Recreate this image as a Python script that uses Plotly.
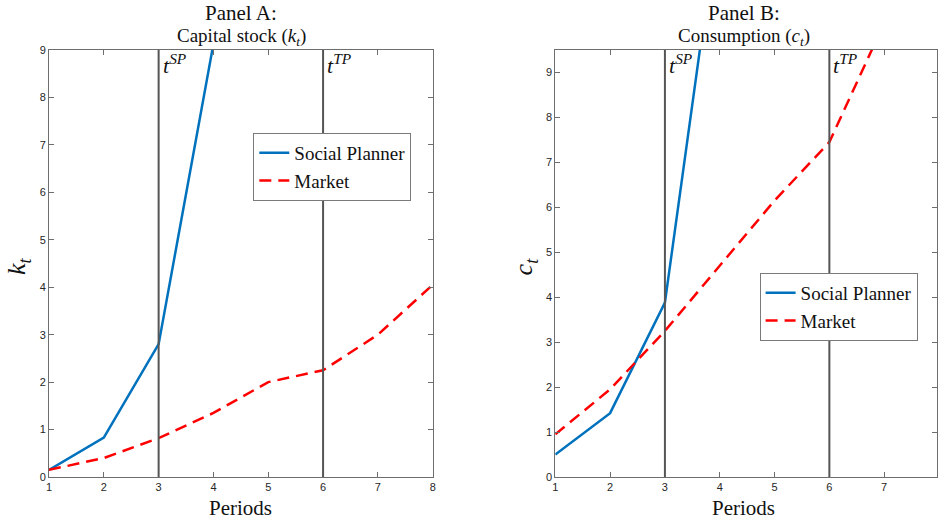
import plotly.graph_objects as go

periods = [1, 2, 3, 4, 5, 6, 7, 8]
k_planner = [0.15, 0.83, 2.8, 9.13, 30, 60, 90, 120]
k_market = [0.15, 0.40, 0.82, 1.35, 2.0, 2.25, 3.0, 4.05]
c_planner = [0.5, 1.42, 3.88, 12.7, 30, 60, 90, 120]
c_market = [0.95, 1.95, 3.25, 4.7, 6.15, 7.45, 10.1, 13.0]
t_sp, t_tp = 3, 6

BLUE = "#0072BD"
RED = "#FF0000"
SERIF = "Liberation Serif"
SANS = "Liberation Sans"
AX = "#6e6e6e"

fig = go.Figure()
dash = "12px,7px"
fig.add_trace(go.Scatter(x=periods, y=k_planner, mode="lines", name="Social Planner",
                         line=dict(color=BLUE, width=2.5), xaxis="x", yaxis="y", legend="legend"))
fig.add_trace(go.Scatter(x=periods, y=k_market, mode="lines", name="Market",
                         line=dict(color=RED, width=2.5, dash=dash), xaxis="x", yaxis="y", legend="legend"))
fig.add_trace(go.Scatter(x=periods, y=c_planner, mode="lines", name="Social Planner",
                         line=dict(color=BLUE, width=2.5), xaxis="x2", yaxis="y2", legend="legend2"))
fig.add_trace(go.Scatter(x=periods, y=c_market, mode="lines", name="Market",
                         line=dict(color=RED, width=2.5, dash=dash), xaxis="x2", yaxis="y2", legend="legend2"))

axcommon = dict(showline=True, linecolor=AX, linewidth=1, mirror="ticks", ticks="inside",
                ticklen=5, tickcolor=AX, showgrid=False, zeroline=False,
                tickfont=dict(family=SANS, size=11, color="#262626"))

dA = [0, (434 - 49) / 891]
dB = [(557 - 49) / 891, 1]
fig.update_layout(
    width=940, height=521,
    margin=dict(l=49, r=0, t=50, b=44),
    paper_bgcolor="white", plot_bgcolor="white",
    xaxis=dict(domain=dA, range=[1, 8], tickvals=periods, anchor="y", **axcommon),
    yaxis=dict(domain=[0, 1], range=[0, 9], tickvals=list(range(0, 10)), anchor="x", **axcommon),
    xaxis2=dict(domain=dB, range=[1, 1 + 383 / 55], tickvals=periods, anchor="y2", **axcommon),
    yaxis2=dict(domain=[0, 1], range=[0, 9.5], tickvals=list(range(0, 10)), anchor="x2", **axcommon),
    legend=dict(x=(254 - 49) / 891, y=(477 - 133) / 427, xanchor="left", yanchor="top",
                bgcolor="white", bordercolor="#7a7a7a", borderwidth=1,
                font=dict(family=SERIF, size=19, color="#111"), tracegroupgap=0),
    legend2=dict(x=(762 - 49) / 891, y=(477 - 273) / 427, xanchor="left", yanchor="top",
                 bgcolor="white", bordercolor="#7a7a7a", borderwidth=1,
                 font=dict(family=SERIF, size=19, color="#111"), tracegroupgap=0),
    showlegend=True,
)

for xr in ["x", "x2"]:
    for xv in [t_sp, t_tp]:
        fig.add_shape(type="line", xref=xr, yref=("y domain" if xr == "x" else "y2 domain"),
                      x0=xv, x1=xv, y0=0, y1=1, line=dict(color="#555555", width=2), layer="above")

def lab(xr, yr, xv, txt):
    fig.add_annotation(xref=xr, yref=yr, x=xv, y=1, xanchor="left", yanchor="top", xshift=2, yshift=2,
                       text=txt, showarrow=False, font=dict(family=SERIF, size=22, color="#111"))

for xr, yr in [("x", "y domain"), ("x2", "y2 domain")]:
    lab(xr, yr, t_sp, "<i>t</i><sup><i>SP</i></sup>")
    lab(xr, yr, t_tp, "<i>t</i><sup><i>TP</i></sup>")

def ptext(x, y, txt, size, angle=0):
    fig.add_annotation(xref="paper", yref="paper", x=x, y=y, text=txt, showarrow=False,
                       xanchor="center", yanchor="middle", textangle=angle,
                       font=dict(family=SERIF, size=size, color="#111"))

def px_x(p):
    return (p - 49) / 891

def px_y(p):
    return (477 - p) / 427

ptext(px_x(242), px_y(13), "Panel A:", 21)
ptext(px_x(242), px_y(37), "Capital stock (<i>k<sub>t</sub></i>)", 19)
ptext(px_x(746), px_y(13), "Panel B:", 21)
ptext(px_x(746), px_y(37), "Consumption (<i>c<sub>t</sub></i>)", 19)
ptext(px_x(241.5), px_y(508), "Periods", 21)
ptext(px_x(746), px_y(508), "Periods", 21)
ptext(px_x(18), px_y(266), "<i>k<sub>t</sub></i>", 26, -90)
ptext(px_x(527), px_y(266), "<i>c<sub>t</sub></i>", 26, -90)

fig.write_html("out.html", config={"displayModeBar": False},
               post_script="document.body.style.margin='0';document.body.style.overflow='hidden';")
